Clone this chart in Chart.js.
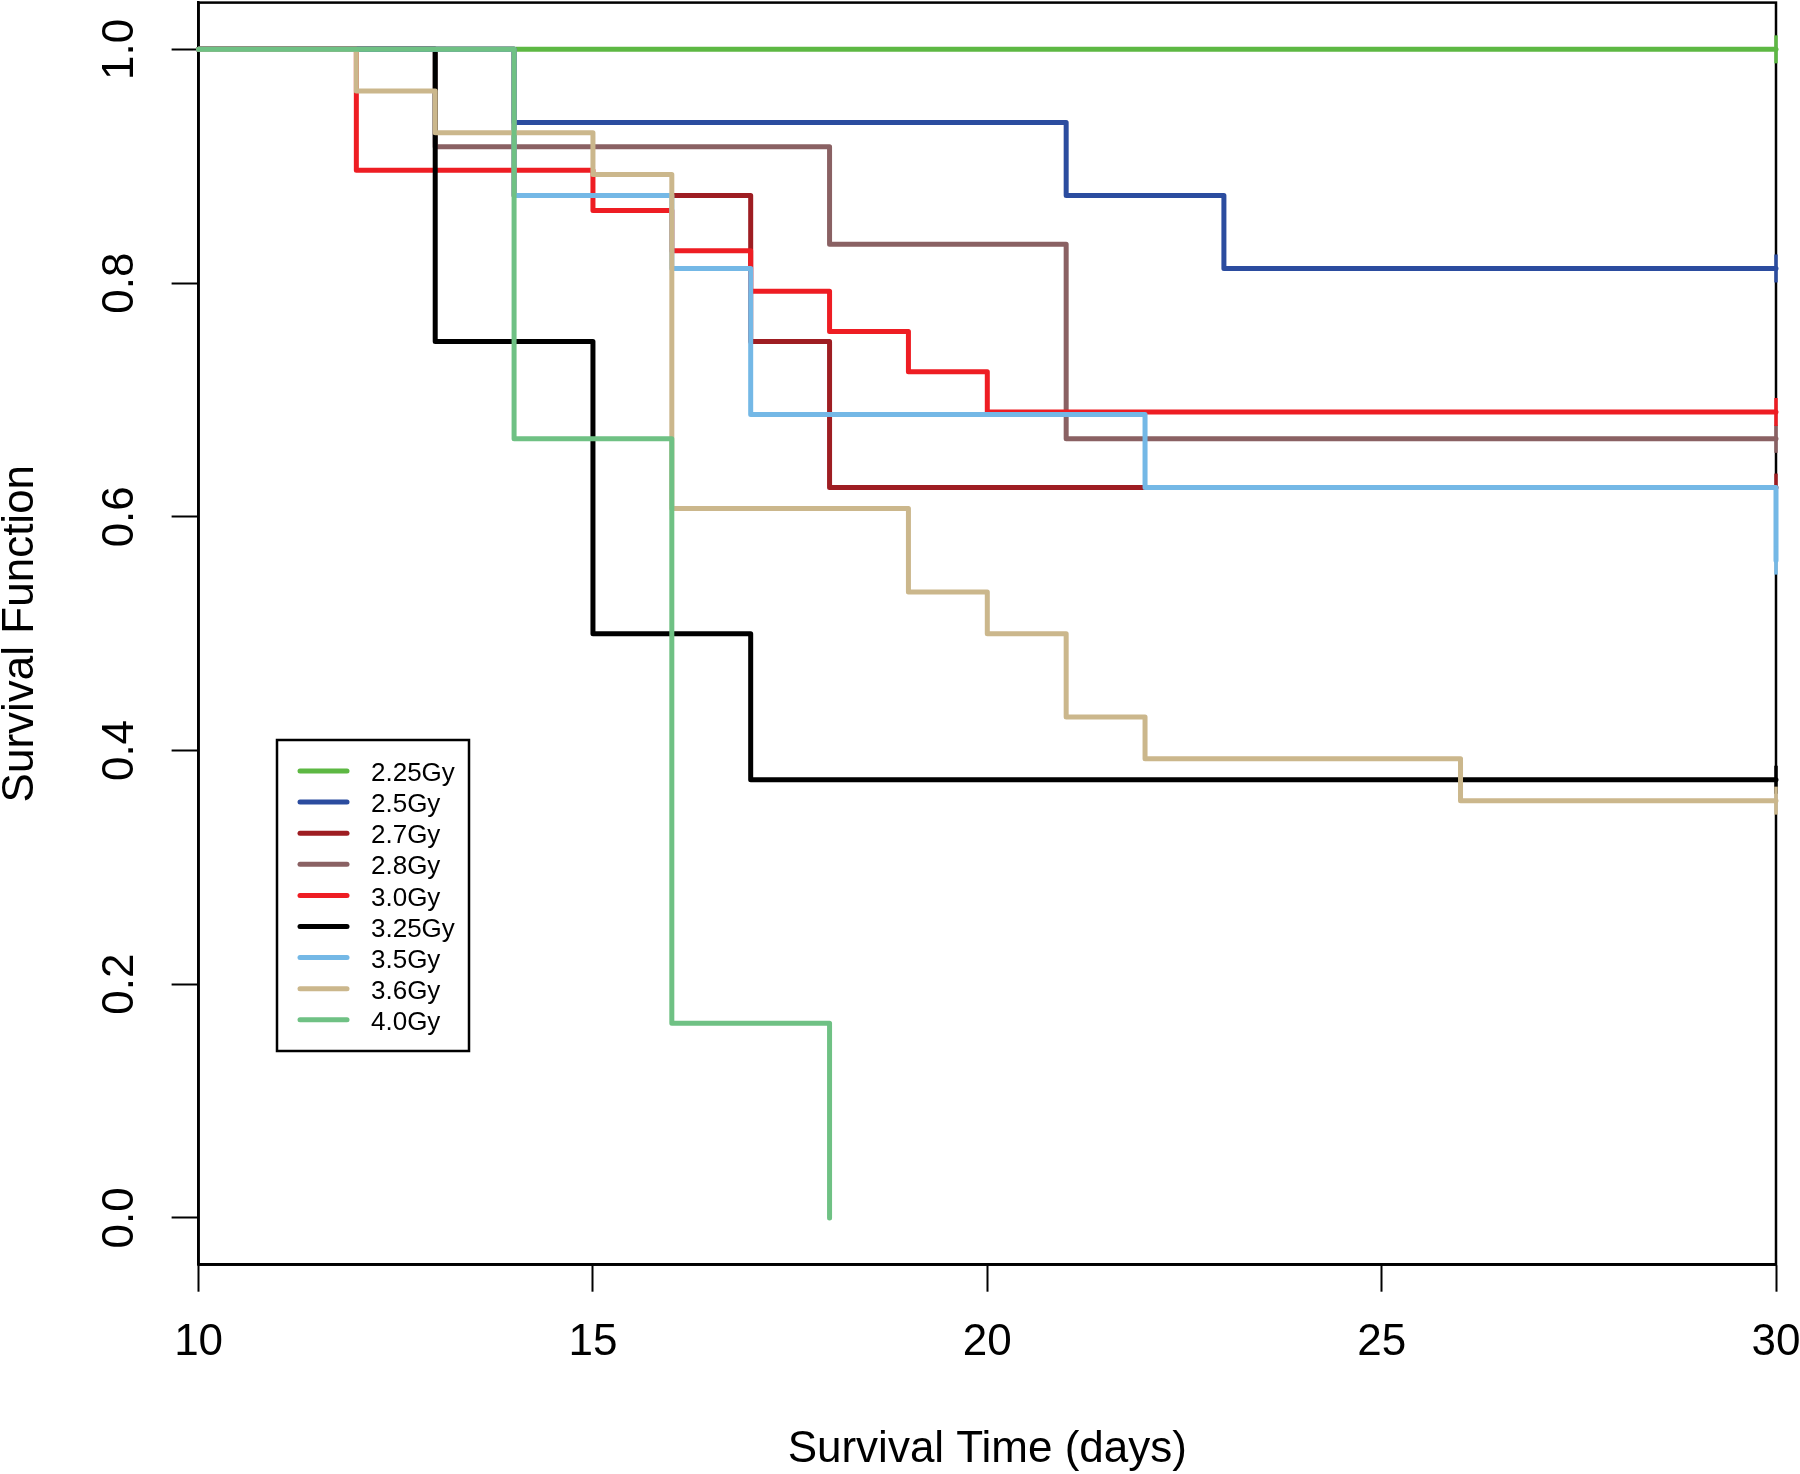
<!DOCTYPE html>
<html>
<head>
<meta charset="utf-8">
<title>Survival Function</title>
<script src="https://cdn.jsdelivr.net/npm/chart.js@4.4.1/dist/chart.umd.min.js"></script>
<style>
  html, body { margin: 0; padding: 0; background: #fff; }
  canvas { display: block; }
</style>
</head>
<body>
<canvas id="km-chart" width="1800" height="1474"></canvas>
<script>
// Kaplan-Meier curves, one pair of arrays per dose (event day, survival after it)
const doseLabels = ['2.25Gy', '2.5Gy', '2.7Gy', '2.8Gy', '3.0Gy', '3.25Gy', '3.5Gy', '3.6Gy', '4.0Gy'];

const days225 = [10, 30];
const surv225 = [1, 1];
const days25 = [10, 14, 21, 23, 30];
const surv25 = [1, 0.9375, 0.875, 0.8125, 0.8125];
const days27 = [10, 14, 17, 18, 30];
const surv27 = [1, 0.875, 0.75, 0.625, 0.625];
const days28 = [10, 13, 18, 21, 30];
const surv28 = [1, 0.9167, 0.8333, 0.6667, 0.6667];
const days30 = [10, 12, 15, 16, 17, 18, 19, 20, 30];
const surv30 = [1, 0.8966, 0.8621, 0.8276, 0.7931, 0.7586, 0.7241, 0.6897, 0.6897];
const days325 = [10, 13, 15, 17, 30];
const surv325 = [1, 0.75, 0.5, 0.375, 0.375];
const days35 = [10, 14, 16, 17, 22, 30];
const surv35 = [1, 0.875, 0.8125, 0.6875, 0.625, 0.5625];
const days36 = [10, 12, 13, 15, 16, 19, 20, 21, 22, 26, 30];
const surv36 = [1, 0.9643, 0.9286, 0.8929, 0.6071, 0.5357, 0.5, 0.4286, 0.3929, 0.3571, 0.3571];
const days40 = [10, 14, 16, 18];
const surv40 = [1, 0.6667, 0.1667, 0];

// censor mark on the last point of the curve
const censoredAtEnd = [true, true, true, true, true, true, true, true, false];

const xTicks = [10, 15, 20, 25, 30];
const yTicks = [0, 0.2, 0.4, 0.6, 0.8, 1.0];

const allDays = [days225, days25, days27, days28, days30, days325, days35, days36, days40];
const allSurv = [surv225, surv25, surv27, surv28, surv30, surv325, surv35, surv36, surv40];
const doseColors = ['#5db843', '#2b4c9f', '#9e1d22', '#8a6163', '#ee1d23', '#000000', '#74b8e6', '#cbb78c', '#6fc184'];

const FONT = '"Liberation Sans", Arial, sans-serif';

const datasets = doseLabels.map((label, i) => ({
  label: label,
  data: allDays[i].map((d, j) => ({ x: d, y: allSurv[i][j] })),
  stepped: 'before',
  borderColor: doseColors[i],
  backgroundColor: doseColors[i],
  borderWidth: 5,
  borderCapStyle: 'round',
  borderJoinStyle: 'round',
  fill: false,
  clip: false,
  order: -i, // later doses drawn on top, as in the original plot
  pointStyle: 'line',
  pointRotation: 90,
  pointBorderColor: doseColors[i],
  pointBorderWidth: 3.5,
  pointHoverRadius: 0,
  pointRadius: (ctx) => (censoredAtEnd[i] && ctx.dataIndex === allDays[i].length - 1 ? 14 : 0)
}));

const plotBox = {
  id: 'plotBox',
  beforeDatasetsDraw(chart) {
    const { ctx, chartArea: a } = chart;
    ctx.save();
    ctx.strokeStyle = '#000';
    ctx.lineWidth = 2.5;
    ctx.strokeRect(a.left, a.top, a.right - a.left, a.bottom - a.top);
    ctx.restore();
  }
};

const doseLegend = {
  id: 'doseLegend',
  afterDatasetsDraw(chart, args, opts) {
    const { ctx } = chart;
    ctx.save();
    ctx.strokeStyle = '#000';
    ctx.lineWidth = 2.5;
    ctx.strokeRect(opts.x, opts.y, opts.width, opts.height);
    ctx.font = '26px ' + FONT;
    ctx.textBaseline = 'middle';
    ctx.lineCap = 'round';
    chart.data.datasets.forEach((ds, i) => {
      const y = opts.y + opts.firstRow + i * opts.rowHeight;
      ctx.strokeStyle = ds.borderColor;
      ctx.lineWidth = 5;
      ctx.beginPath();
      ctx.moveTo(opts.x + 23, y);
      ctx.lineTo(opts.x + 70, y);
      ctx.stroke();
      ctx.fillStyle = '#000';
      ctx.fillText(ds.label, opts.x + 94, y + 3);
    });
    ctx.restore();
  }
};

// no extra room for overhanging tick labels, the plot box is placed by hand
const noScalePadding = (scale) => {
  scale.paddingTop = 0;
  scale.paddingBottom = 0;
  scale.paddingLeft = 0;
  scale.paddingRight = 0;
};

new Chart(document.getElementById('km-chart'), {
  type: 'line',
  data: { datasets: datasets },
  plugins: [plotBox, doseLegend],
  options: {
    responsive: false,
    animation: false,
    events: [],
    layout: {
      autoPadding: false,
      padding: { top: 2.6, right: 24, bottom: 0, left: 0 }
    },
    plugins: {
      legend: { display: false },
      tooltip: { enabled: false },
      doseLegend: { x: 277, y: 740, width: 192, height: 311, firstRow: 31, rowHeight: 31.1 }
    },
    scales: {
      x: {
        type: 'linear',
        min: 10,
        max: 30,
        afterBuildTicks: (scale) => { scale.ticks = xTicks.map((v) => ({ value: v })); },
        afterFit: (scale) => { scale.height = 209.3; noScalePadding(scale); },
        border: { display: true, color: '#000', width: 2.5 },
        grid: {
          drawOnChartArea: false,
          drawTicks: true,
          tickLength: 27,
          tickWidth: 2,
          tickColor: '#000'
        },
        ticks: {
          color: '#000',
          maxRotation: 0,
          padding: 25,
          font: { family: FONT, size: 44 }
        },
        title: {
          display: true,
          text: 'Survival Time (days)',
          color: '#000',
          padding: { top: 0, bottom: 2 },
          font: { family: FONT, size: 44, lineHeight: 1 }
        }
      },
      y: {
        type: 'linear',
        min: -0.04,
        max: 1.04,
        afterBuildTicks: (scale) => { scale.ticks = yTicks.map((v) => ({ value: v })); },
        afterFit: (scale) => { scale.width = 198.6; noScalePadding(scale); },
        border: { display: true, color: '#000', width: 2.5 },
        grid: {
          drawOnChartArea: false,
          drawTicks: true,
          tickLength: 27,
          tickWidth: 2,
          tickColor: '#000'
        },
        ticks: {
          color: '#000',
          minRotation: 90,
          maxRotation: 90,
          crossAlign: 'center',
          padding: 20,
          font: { family: FONT, size: 44 },
          callback: (v) => Number(v).toFixed(1)
        },
        title: {
          display: true,
          text: 'Survival Function',
          color: '#000',
          padding: 0,
          font: { family: FONT, size: 44, lineHeight: 0.93 }
        }
      }
    }
  }
});
</script>
</body>
</html>
